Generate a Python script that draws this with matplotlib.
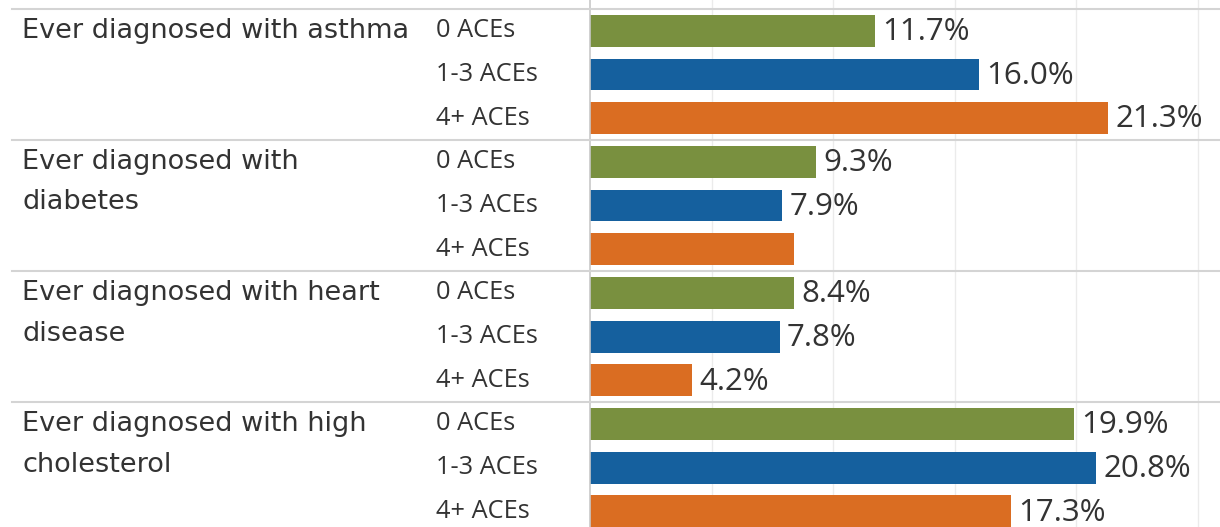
import matplotlib.pyplot as plt
from matplotlib.transforms import blended_transform_factory
from matplotlib.lines import Line2D

plt.rcParams['font.family'] = ['Open Sans', 'DejaVu Sans']

# data
conditions = [["Ever diagnosed with asthma"],
              ["Ever diagnosed with", "diabetes"],
              ["Ever diagnosed with heart", "disease"],
              ["Ever diagnosed with high", "cholesterol"]]
groups = ["0 ACEs", "1-3 ACEs", "4+ ACEs"]
values = [[11.7, 16.0, 21.3],
          [9.3, 7.9, 8.4],
          [8.4, 7.8, 4.2],
          [19.9, 20.8, 17.3]]
show_label = [[True, True, True],
              [True, True, False],
              [True, True, True],
              [True, True, True]]
colors = ["#79903f", "#15609e", "#da6d22"]

fig = plt.figure(figsize=(12.2, 5.27), dpi=100)
ax = fig.add_axes([590 / 1220, 0, 1 - 590 / 1220, 1])

for g, vals in enumerate(values):
    for i, v in enumerate(vals):
        y = g * 3 + i
        ax.barh(y, v, height=0.73, color=colors[i], zorder=2)
        if show_label[g][i]:
            ax.text(v + 0.3, y + 0.03, f"{v:.1f}%", va='center', ha='left',
                    fontsize=22.5, color='#333333')

ax.set_xlim(0, 630 / 24.32)
ax.set_ylim(11.36, -0.706)
ax.set_xticks([5, 10, 15, 20, 25])
ax.grid(axis='x', color='#ebebeb', linewidth=1, zorder=0)
ax.tick_params(left=False, bottom=False, labelleft=False, labelbottom=False)
for s in ['top', 'right', 'bottom']:
    ax.spines[s].set_visible(False)
ax.spines['left'].set_color('#c8c8c8')
ax.spines['left'].set_linewidth(1.2)

tr = blended_transform_factory(fig.transFigure, ax.transData)
for g in range(len(values)):
    sep = g * 3 - 0.5
    fig.add_artist(Line2D([12 / 1220, 1], [sep, sep], transform=tr,
                          color='#d4d4d4', linewidth=1.5, zorder=3))
    for k, line in enumerate(conditions[g]):
        fig.text(22 / 1220, g * 3 + k * 0.93, line, transform=tr,
                 va='center', ha='left', fontsize=19.5, color='#333333',
                 family='DejaVu Sans')
    for i, lab in enumerate(groups):
        fig.text(436 / 1220, g * 3 + i, lab, transform=tr,
                 va='center', ha='left', fontsize=18.3, color='#333333')

fig.savefig("out.png", dpi=100)
